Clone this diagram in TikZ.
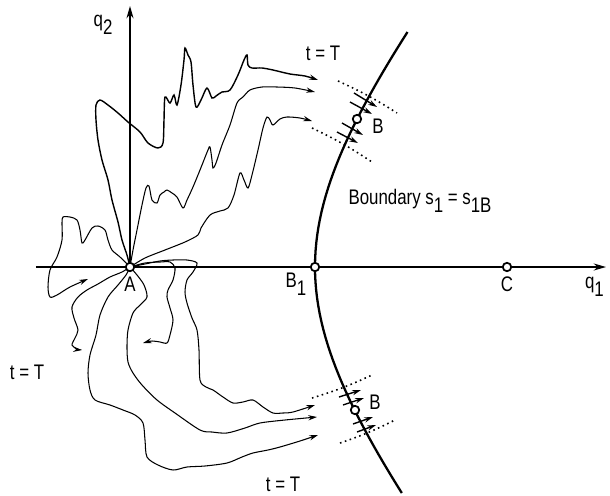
\documentclass[tikz,border=0pt]{standalone}
\usepackage{fontspec}
\setmainfont[FakeStretch=0.8]{Liberation Sans}
\usetikzlibrary{arrows.meta}
\newcommand{\subtxt}[1]{\raisebox{-0.7ex}{#1}}

\begin{document}
\begin{tikzpicture}[x=0.02cm, y=-0.02cm, >={Stealth[length=5pt,width=3pt]},
    pt/.style={circle, draw, line width=1pt, fill=white, inner sep=0pt, minimum size=4.8pt},
    walk/.style={->, line width=0.6pt},
    hatch/.style={->, line width=0.8pt},
    spread/.style={dotted, line width=0.9pt},
    every node/.style={font=\fontsize{12}{14}\selectfont}]

    \useasboundingbox (0,0) rectangle (610,495);

    \coordinate (A) at (130,267);

    % Achsen
    \draw[-{Stealth[length=7pt,width=4pt]}, line width=1pt] (36,267) -- (606,267);
    \draw[-{Stealth[length=7pt,width=4pt]}, line width=1pt] (A) -- (130,6);
    \node (q2) at (103,25) {q\subtxt{2}};
    \node[anchor=east] (q1) at (610,287) {q\subtxt{1}};

    % Rand s_1 = s_1B
    \draw[line width=1.3pt] plot[domain=-235:226, samples=60]
        ({315+150*(sqrt(1+(\x/185)^2)-1)}, {267+\x});
    \node (rand) at (420,201) {Boundary s\subtxt{1} = s\subtxt{1B}};

    % Pfade nach oben
    \draw[walk, line width=0.8pt] plot[smooth, tension=0.5] coordinates {(A) (127,255) (122,240) (118,222)
        (112,200) (108,180) (102,160) (98,140) (96,120) (96,105) (100,100) (108,105) (118,113)
        (128,122) (140,132) (148,143) (158,148) (163,143) (164,120) (165,97) (170,103) (174,95)
        (177,105) (181,85) (184,60) (185,48) (188,55) (191,62) (193,85) (196,107) (201,100)
        (207,88) (212,98) (216,96) (222,92) (230,90) (238,75) (244,60) (247,55) (248,65)
        (252,68) (262,68) (273,70) (290,74) (305,76) (318,80)};
    \draw[walk] plot[smooth, tension=0.5] coordinates {(A) (133,250) (137,230) (142,205) (146,188)
        (149,186) (152,200) (157,203) (160,195) (164,192) (167,190) (172,193) (177,197) (183,208)
        (187,200) (193,187) (200,170) (208,150) (210,147) (212,160) (213,168) (216,163) (222,145)
        (230,125) (237,103) (243,97) (250,90) (262,87) (277,87) (295,88) (315,92)};
    \draw[walk] plot[smooth, tension=0.5] coordinates {(A) (145,258) (165,250) (185,242) (198,235)
        (201,228) (210,215) (220,211) (228,208) (234,195) (240,173) (244,180) (248,188) (252,175)
        (258,150) (263,128) (267,117) (270,120) (273,125) (280,119) (287,117) (300,118) (312,121)};

    % Pfade links
    \draw[walk] plot[smooth, tension=0.5] coordinates {(A) (120,257) (112,250) (108,240) (105,230)
        (98,226) (92,228) (85,240) (82,243) (80,230) (77,220) (70,217) (63,217) (62,223) (62,240)
        (57,257) (50,270) (48,287) (50,297) (57,295) (70,287) (88,279)};
    \draw[walk] plot[smooth, tension=0.5] coordinates {(A) (122,272) (110,277) (98,284) (87,290)
        (78,297) (72,307) (74,318) (78,330) (75,338) (72,345) (77,349) (82,350)};

    % Pfade nach unten
    \draw[walk] plot[smooth, tension=0.5] coordinates {(A) (126,275) (118,285) (108,297) (100,315)
        (96,335) (90,355) (88,373) (90,390) (95,400) (110,405) (123,410) (135,415) (143,423)
        (145,440) (147,457) (158,465) (173,470) (187,467) (205,466) (227,463) (242,457) (253,453)
        (268,450) (280,447) (300,441) (318,435)};
    \draw[walk] plot[smooth, tension=0.5] coordinates {(A) (137,275) (144,285) (147,297) (140,305)
        (133,313) (128,330) (127,347) (128,362) (133,373) (142,385) (157,400) (175,413) (200,430)
        (212,432) (227,433) (245,428) (260,423) (285,420) (317,417)};
    \draw[walk] plot[smooth, tension=0.5] coordinates {(A) (145,264) (160,261) (173,260) (187,260)
        (197,263) (193,272) (187,280) (185,292) (187,303) (192,318) (197,330) (199,350) (200,380)
        (206,387) (213,390) (223,397) (233,403) (243,402) (253,400) (263,407) (273,413) (283,413)
        (293,412) (315,405)};
    \draw[walk] plot[smooth, tension=0.5] coordinates {(A) (145,263) (160,262) (170,262) (175,268)
        (173,280) (168,290) (167,297) (170,308) (173,320) (170,335) (167,343) (160,342) (152,341)
        (143,343)};

    % Punkte
    \node[pt] (Apt) at (A) {};
    \node[pt] (B1) at (315,267) {};
    \node[pt] (C) at (507,267) {};
    \node[pt] (Bup) at (357,119) {};
    \node[pt] (Bdn) at (355,410) {};
    \node (Alab) at (130,284) {A};
    \node (B1lab) at (296,284) {B\subtxt{1}};
    \node (Clab) at (507,284) {C};
    \node (Buplab) at (378,126) {B};
    \node (Bdnlab) at (375,402) {B};

    % Streuung bei B (oben)
    \draw[spread] (338,81) to[bend left=4] (397,113);
    \draw[spread] (312,128) to[bend left=4] (372,162);
    \draw[hatch] (354,93) -- (377,107);
    \draw[hatch] (350,102) -- (372,114);
    \draw[hatch] (342,123) -- (363,135);
    \draw[hatch] (337,132) -- (358,143);

    % Streuung bei B (unten)
    \draw[spread] (312,398) to[bend right=4] (372,375);
    \draw[spread] (340,443) to[bend right=4] (395,420);
    \draw[hatch] (339,397) -- (361,390);
    \draw[hatch] (343,405) -- (364,398);
    \draw[hatch] (353,424) -- (373,417);
    \draw[hatch] (357,432) -- (376,425);

    % Zeiten
    \node (tT1) at (323,53) {t = T};
    \node (tT2) at (27,372) {t = T};
    \node (tT3) at (283,484) {t = T};
\end{tikzpicture}
\end{document}
